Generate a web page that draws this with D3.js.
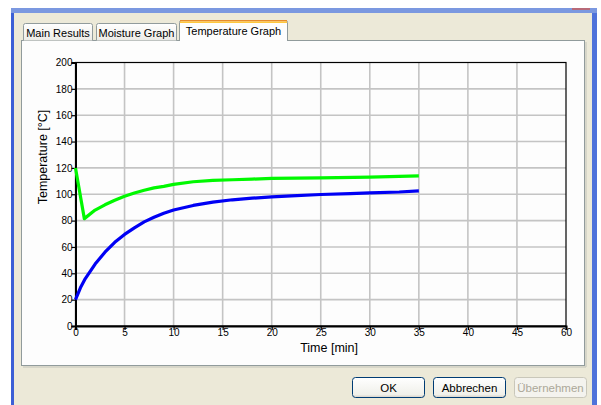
<!DOCTYPE html>
<html>
<head>
<script src="https://d3js.org/d3.v7.min.js"></script>
<style>
  body { margin: 0; background: #fff; }
  svg text { font-family: "Liberation Sans", Arial, sans-serif; }
</style>
</head>
<body>
<div id="chartContainer"></div>
<script type="text/javascript">
// data
var tabNames = ["Main Results", "Moisture Graph", "Temperature Graph"];
var buttonNames = ["OK", "Abbrechen", "Übernehmen"];
var xTickValues = [0, 5, 10, 15, 20, 25, 30, 35, 40, 45, 50];
var xTickLabels = ["0", "5", "10", "15", "20", "25", "30", "35", "40", "45", "60"];
var yTickValues = [0, 20, 40, 60, 80, 100, 120, 140, 160, 180, 200];
var timeProduct = [0, 0.5, 1, 2, 3, 4, 5, 6, 7, 8, 9, 10, 12, 14, 16, 18, 20, 22, 25, 28, 30, 33, 35];
var tempProduct = [20, 29, 36, 47, 56, 63.5, 69.5, 74.5, 79, 82.5, 85.5, 88, 91.5, 94, 95.8, 97, 98, 98.8, 99.8, 100.5, 101, 101.7, 102.5];
var timeAir = [0, 0.9, 2, 3, 4, 5, 6, 7, 8, 9, 10, 12, 14, 16, 18, 20, 25, 30, 35];
var tempAir = [120, 81.5, 88, 92, 95.5, 98.5, 101, 103, 104.8, 106, 107.5, 109.5, 110.5, 111, 111.5, 112, 112.5, 113, 114];

var svg = d3.select("#chartContainer").append("svg")
    .attr("width", 601).attr("height", 405);

var defs = svg.append("defs");
var g1 = defs.append("linearGradient").attr("id", "tabGrad").attr("x1", 0).attr("y1", 0).attr("x2", 0).attr("y2", 1);
g1.append("stop").attr("offset", "0%").attr("stop-color", "#ffffff");
g1.append("stop").attr("offset", "100%").attr("stop-color", "#ecebe6");
var g2 = defs.append("linearGradient").attr("id", "btnGrad").attr("x1", 0).attr("y1", 0).attr("x2", 0).attr("y2", 1);
g2.append("stop").attr("offset", "0%").attr("stop-color", "#ffffff");
g2.append("stop").attr("offset", "85%").attr("stop-color", "#f0f0ea");
g2.append("stop").attr("offset", "100%").attr("stop-color", "#d6d0c5");

// window frame
svg.append("rect").attr("x", 11).attr("y", 8).attr("width", 586).attr("height", 397).attr("fill", "#7b98e0");
svg.append("rect").attr("x", 11).attr("y", 13).attr("width", 3).attr("height", 392).attr("fill", "#3c5fd6");
svg.append("rect").attr("x", 592).attr("y", 13).attr("width", 5).attr("height", 392).attr("fill", "#4f72da");
svg.append("rect").attr("x", 14).attr("y", 13).attr("width", 578).attr("height", 392).attr("fill", "#ece9d8");
svg.append("rect").attr("x", 572).attr("y", 8).attr("width", 18).attr("height", 2).attr("fill", "#b86a78");

// tab panel
svg.append("rect").attr("x", 21.5).attr("y", 40.5).attr("width", 563).attr("height", 325)
    .attr("fill", "#fdfdfd").attr("stroke", "#919b9c");
svg.append("line").attr("x1", 586).attr("x2", 586).attr("y1", 42).attr("y2", 367).attr("stroke", "#d0cfc4").attr("stroke-width", 1.5);
svg.append("line").attr("x1", 23).attr("x2", 586).attr("y1", 367).attr("y2", 367).attr("stroke", "#d0cfc4").attr("stroke-width", 1.5);

// tabs
var tabX = [23, 96, 179];
var tabW = [70, 81, 109];
tabNames.forEach(function (name, i) {
  var sel = i === 2;
  var top = sel ? 20 : 23;
  var h = sel ? 21 : 17.5;
  svg.append("path")
      .attr("d", "M" + (tabX[i] + 0.5) + "," + (top + h) + " V" + (top + 2.5) + " Q" + (tabX[i] + 0.5) + "," + (top + 0.5) + " " + (tabX[i] + 2.5) + "," + (top + 0.5) +
            " H" + (tabX[i] + tabW[i] - 2.5) + " Q" + (tabX[i] + tabW[i] - 0.5) + "," + (top + 0.5) + " " + (tabX[i] + tabW[i] - 0.5) + "," + (top + 2.5) + " V" + (top + h))
      .attr("fill", sel ? "#fdfdfd" : "url(#tabGrad)")
      .attr("stroke", "#919b9c");
  if (sel) {
    svg.append("rect").attr("x", tabX[i] + 1).attr("y", top).attr("width", tabW[i] - 2).attr("height", 1.5).attr("fill", "#e68b2c");
    svg.append("rect").attr("x", tabX[i] + 1).attr("y", top + 1.5).attr("width", tabW[i] - 2).attr("height", 1.5).attr("fill", "#ffc83c");
  }
  svg.append("text")
      .attr("x", tabX[i] + tabW[i] / 2).attr("y", sel ? 35 : 37)
      .attr("text-anchor", "middle")
      .style("font-size", "11px").style("fill", "#000")
      .text(name);
});

// chart
var x = d3.scaleLinear().domain([0, 50]).range([75.5, 566]);
var y = d3.scaleLinear().domain([0, 200]).range([326, 62.5]);

// grid
svg.append("g").selectAll("line").data(xTickValues.slice(1, -1)).enter().append("line")
    .attr("x1", function (d) { return x(d); }).attr("x2", function (d) { return x(d); })
    .attr("y1", y(0)).attr("y2", y(200))
    .attr("stroke", "#c4c4c4").attr("stroke-width", 1.6);
svg.append("g").selectAll("line").data(yTickValues.slice(1, -1)).enter().append("line")
    .attr("x1", x(0)).attr("x2", x(50))
    .attr("y1", function (d) { return y(d); }).attr("y2", function (d) { return y(d); })
    .attr("stroke", "#c4c4c4").attr("stroke-width", 1.6);

// frame
svg.append("rect").attr("x", x(0)).attr("y", y(200)).attr("width", x(50) - x(0)).attr("height", y(0) - y(200))
    .attr("fill", "none").attr("stroke", "#000").attr("stroke-width", 1.2);

// axes
var xAxis = d3.axisBottom(x).tickValues(xTickValues).tickSize(4)
    .tickFormat(function (d, i) { return xTickLabels[i]; });
var gx = svg.append("g").attr("transform", "translate(0," + y(0) + ")").call(xAxis);
var yAxis = d3.axisLeft(y).tickValues(yTickValues).tickSize(4);
var gy = svg.append("g").attr("transform", "translate(" + x(0) + ",0)").call(yAxis);
[gx, gy].forEach(function (g) {
  g.select(".domain").attr("stroke", "#000").attr("stroke-width", 2);
  g.selectAll(".tick line").attr("stroke", "#000").attr("stroke-width", 1.2);
  g.selectAll(".tick text").style("font-size", "10px").style("fill", "#000")
      .style("font-family", "'Liberation Sans', Arial, sans-serif");
});
gx.selectAll(".tick text").attr("dy", "0.6em").attr("y", 4);
gy.selectAll(".tick text").attr("x", -3);

// series
var line = d3.line().x(function (d) { return x(d[0]); }).y(function (d) { return y(d[1]); });
svg.append("path").datum(d3.zip(timeAir, tempAir)).attr("d", line)
    .attr("fill", "none").attr("stroke", "#00f800").attr("stroke-width", 3.2).attr("stroke-linejoin", "round");
svg.append("path").datum(d3.zip(timeProduct, tempProduct)).attr("d", line)
    .attr("fill", "none").attr("stroke", "#0000f4").attr("stroke-width", 3.2).attr("stroke-linejoin", "round");

// axis titles
svg.append("text").attr("x", 358).attr("y", 352).attr("text-anchor", "end")
    .style("font-size", "12.5px").style("fill", "#000").text("Time [min]");
svg.append("text").attr("transform", "translate(47,157) rotate(-90)").attr("text-anchor", "middle")
    .style("font-size", "12.5px").style("fill", "#000").text("Temperature [°C]");

// buttons
var btnX = [352, 433, 514];
buttonNames.forEach(function (name, i) {
  var dis = i === 2;
  svg.append("rect").attr("x", btnX[i] + 0.5).attr("y", 377.5).attr("width", 72).attr("height", 20).attr("rx", 3)
      .attr("fill", dis ? "#f4f3ee" : "url(#btnGrad)")
      .attr("stroke", dis ? "#c9c7ba" : "#003c74");
  svg.append("text").attr("x", btnX[i] + 36.5).attr("y", 391.5).attr("text-anchor", "middle")
      .style("font-size", "11.5px").style("fill", dis ? "#aca899" : "#000").text(name);
});
</script>
</body>
</html>
